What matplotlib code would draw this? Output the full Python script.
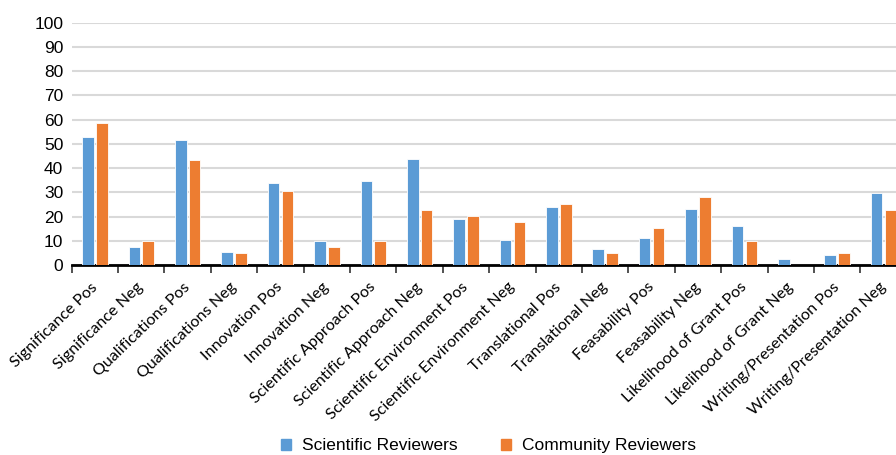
import matplotlib
matplotlib.use("Agg")
import numpy as np
from matplotlib import pyplot as plt
from matplotlib import transforms
from matplotlib.patches import Patch

categories = ["Significance Pos", "Significance Neg", "Qualifications Pos",
              "Qualifications Neg", "Innovation Pos", "Innovation Neg",
              "Scientific Approach Pos", "Scientific Approach Neg",
              "Scientific Environment Pos", "Scientific Environment Neg",
              "Translational Pos", "Translational Neg", "Feasability Pos",
              "Feasability Neg", "Likelihood of Grant Pos",
              "Likelihood of Grant Neg", "Writing/Presentation Pos",
              "Writing/Presentation Neg"]
scientific = [53.0, 7.5, 51.7, 5.3, 33.8, 9.7, 34.5, 43.8, 18.8, 10.3,
              23.9, 6.8, 11.0, 23.2, 16.2, 2.4, 4.1, 29.6]
community = [58.8, 9.9, 43.4, 4.8, 30.6, 7.4, 10.0, 22.9, 20.3, 17.6,
             25.3, 4.8, 15.2, 28.0, 10.0, 0.0, 4.9, 22.9]
yticks = list(range(0, 101, 10))

blue = "#5B9BD5"
orange = "#ED7D31"

fig = plt.figure(figsize=(8.96, 4.55), dpi=100)
# axes extend slightly past the right edge, as in the cropped original
ax = fig.add_axes([0.080, 0.4176, 0.9321, 0.5325])

x = np.arange(len(categories))
w = 0.25
ax.bar(x - 0.15, scientific, w, color=blue, edgecolor="white", linewidth=0.6, zorder=3)
ax.bar(x + 0.15, community, w, color=orange, edgecolor="white", linewidth=0.6, zorder=3)

ax.set_xlim(-0.5, len(categories) - 0.5)
ax.set_ylim(0, 100)
ax.set_yticks(yticks)
ax.set_yticklabels([str(v) for v in yticks], family=["Liberation Sans", "DejaVu Sans"], fontsize=12.5)
ax.tick_params(axis="y", length=0, pad=6)
ax.yaxis.grid(True, color="#d9d9d9", linewidth=1.5, zorder=0)
ax.set_axisbelow(True)

ax.set_xticks(x)
ax.set_xticklabels(categories, rotation=44, ha="right", rotation_mode="anchor",
                   family=["Lato", "DejaVu Sans"], fontsize=12)
ax.tick_params(axis="x", which="major", length=0, pad=0)
ax.set_xticks(np.arange(len(categories) + 1) - 0.5, minor=True)
ax.tick_params(axis="x", which="minor", length=6, width=1.2, color="#333333")

for s in ["top", "right", "left"]:
    ax.spines[s].set_visible(False)
ax.spines["bottom"].set_linewidth(2)
ax.spines["bottom"].set_color("black")

# size the rotated labels so the longest one spans ~150 px across
fig.canvas.draw()
r = fig.canvas.get_renderer()
lbls = ax.get_xticklabels()
bb = lbls[9].get_window_extent(r)
fs = 12 * 150 / bb.width
for lbl in lbls:
    lbl.set_fontsize(fs)
fig.canvas.draw()
# put the first label's top-right corner just below the axis, by its category
bb0 = lbls[0].get_window_extent(r)
x0 = ax.transData.transform((0, 0))[0]
y0 = ax.transData.transform((0, 0))[1]
dx = (x0 + 5) - bb0.x1
dy = (y0 - 15) - bb0.y1
shift = transforms.ScaledTranslation(dx / fig.dpi, dy / fig.dpi, fig.dpi_scale_trans)
for lbl in lbls:
    lbl.set_transform(lbl.get_transform() + shift)

handles = [Patch(color=blue, label="Scientific Reviewers"),
           Patch(color=orange, label="Community Reviewers")]
fig.legend(handles=handles, loc="center", bbox_to_anchor=(0.545, 0.02), ncol=2,
           frameon=False, handlelength=0.6, handleheight=0.6, handletextpad=0.6,
           columnspacing=2.5, prop={"family": "Liberation Sans", "size": 12.5})

fig.savefig("out.png", dpi=100)
